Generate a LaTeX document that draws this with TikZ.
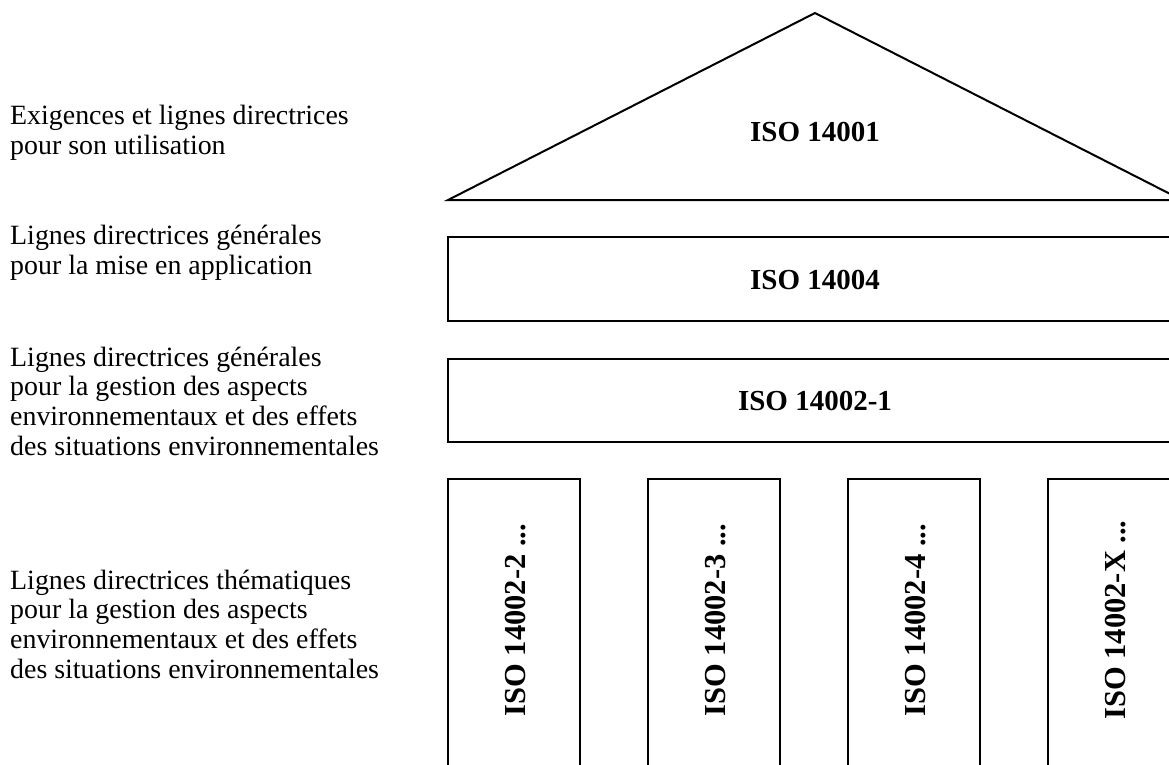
\documentclass[tikz,border=0pt]{standalone}
\usepackage{fontspec}
\setmainfont{Liberation Serif}
\begin{document}
\begin{tikzpicture}[x=1pt,y=-1pt,
  part/.style={draw=black,line width=2pt},
  lbl/.style={anchor=west,align=left,inner sep=0pt,font=\fontsize{27.9}{29.7}\selectfont},
  title/.style={inner sep=0pt,font=\fontsize{29}{32}\selectfont\bfseries},
  coltext/.style={inner sep=0pt,rotate=90,font=\fontsize{30.5}{32}\selectfont\bfseries}]
\useasboundingbox (0,0) rectangle (1169,764);
\clip (0,0) rectangle (1169,764);
% roof
\coordinate (apex) at (815,13);
\coordinate (bl) at (448,200);
\coordinate (br) at (1182,200);
\draw[part,line join=miter] (bl) -- (apex) -- (br) -- cycle;
\node[title] (t1) at (815,132) {ISO 14001};
% beams
\draw[part] (448,237) rectangle (1182,321);
\node[title] (t2) at (815,280) {ISO 14004};
\draw[part] (448,359) rectangle (1182,442);
\node[title] (t3) at (815,401) {ISO 14002-1};
% columns
\foreach \x/\lab/\n in {448/2/c1,648/3/c2,848/4/c3,1048/X/c4}{
  \draw[part] (\x,800) -- (\x,479) -- (\x+132,479) -- (\x+132,800);
  \node[coltext] (\n) at (\x+68,620) {ISO 14002-\lab\ ...};
}
% left labels
\node[lbl] (l1) at (10,133) {Exigences et lignes directrices\\pour son utilisation};
\node[lbl] (l2) at (10,253) {Lignes directrices générales\\pour la mise en application};
\node[lbl] (l3) at (10,401) {Lignes directrices générales\\pour la gestion des aspects\\environnementaux et des effets\\des situations environnementales};
\node[lbl] (l4) at (10,624) {Lignes directrices thématiques\\pour la gestion des aspects\\environnementaux et des effets\\des situations environnementales};
\end{tikzpicture}
\end{document}
